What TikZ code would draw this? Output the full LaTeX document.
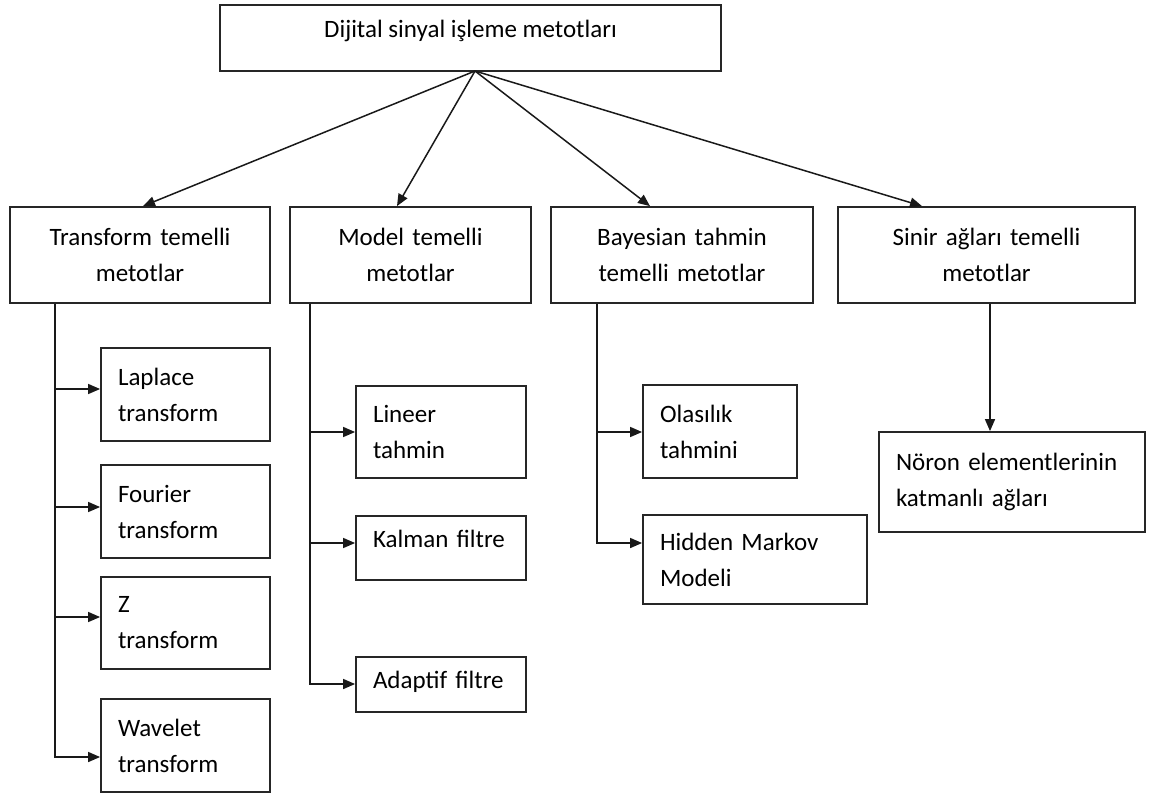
\documentclass[tikz,border=0pt]{standalone}
\usepackage{fontspec}
\setmainfont{Carlito}
\usetikzlibrary{arrows.meta,calc}
\begin{document}
\begin{tikzpicture}[x=1pt,y=-1pt,
  every node/.style={font=\fontsize{25}{36}\selectfont},
  box/.style={draw=black!85,line width=1.8pt,rectangle,inner ysep=0pt},
  mid/.style={box,align=center,inner xsep=10pt},
  leaf/.style={box,align=left,inner xsep=17pt},
  arr/.style={draw=black!90,line width=1.5pt,-{Triangle[length=12pt,width=10pt]}}]
\useasboundingbox (0,0) rectangle (1152,796);
% top
\node[box,minimum width=501,minimum height=66,text height=17pt,text depth=19pt] (top) at (470.5,38) {Dijital sinyal işleme metotları};
% second level
\node[mid,minimum height=96,text width=240] (tr) at (140,255) {Transform temelli\\metotlar};
\node[mid,minimum height=96,text width=221] (mo) at (410.5,255) {Model temelli\\metotlar};
\node[mid,minimum height=96,text width=242] (ba) at (682,255) {Bayesian tahmin\\temelli metotlar};
\node[mid,minimum height=96,text width=277] (si) at (986.5,255) {Sinir ağları temelli\\metotlar};
% leaves of transform
\node[leaf,minimum height=93,text width=135] (lap) at (185.5,394.5) {Laplace\\transform};
\node[leaf,minimum height=93,text width=135] (fou) at (185.5,511.5) {Fourier\\transform};
\node[leaf,minimum height=92,text width=135] (zt) at (185.5,623) {Z\\transform};
\node[leaf,minimum height=93,text width=135] (wav) at (185.5,745.5) {Wavelet\\transform};
% leaves of model
\node[leaf,minimum height=92,text width=136] (lin) at (441,432) {Lineer\\tahmin};
\node[leaf,minimum height=64,text width=136,text height=17pt,text depth=19pt] (kal) at (441,548) {Kalman filtre};
\node[leaf,minimum height=55,text width=136,text height=17pt,text depth=10pt] (ada) at (441,684.5) {Adaptif filtre};
% leaves of bayesian
\node[leaf,minimum height=93,text width=120] (ola) at (720,431.5) {Olasılık\\tahmini};
\node[leaf,minimum height=89,text width=190] (hmm) at (755,559.5) {Hidden Markov\\Modeli};
% leaf of neural
\node[leaf,minimum height=100,text width=232] (nor) at (1012,482) {Nöron elementlerinin\\katmanlı ağları};
% top arrows
\coordinate (j) at (475,71);
\draw[arr] (j) -- (tr.north -| 143,0);
\draw[arr] (j) -- (mo.north -| 397,0);
\draw[arr] (j) -- (ba.north -| 650,0);
\draw[arr] (j) -- (si.north -| 922,0);
% transform branches
\draw[arr] (tr.south -| 55,0) |- (lap.west |- 0,389);
\draw[arr] (tr.south -| 55,0) |- (fou.west |- 0,507);
\draw[arr] (tr.south -| 55,0) |- (zt.west |- 0,617);
\draw[arr] (tr.south -| 55,0) |- (wav.west |- 0,757);
% model branches
\draw[arr] (mo.south -| 310,0) |- (lin.west |- 0,432);
\draw[arr] (mo.south -| 310,0) |- (kal.west |- 0,543);
\draw[arr] (mo.south -| 310,0) |- (ada.west |- 0,684);
% bayesian branches
\draw[arr] (ba.south -| 597,0) |- (ola.west |- 0,432);
\draw[arr] (ba.south -| 597,0) |- (hmm.west |- 0,543);
% neural
\draw[arr] (si.south -| 990,0) -- (nor.north -| 990,0);
\end{tikzpicture}
\end{document}
